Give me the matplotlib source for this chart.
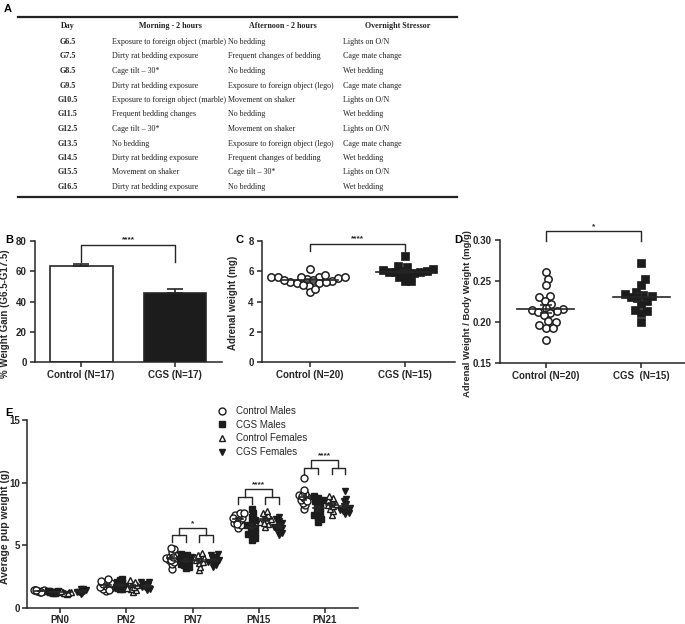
import numpy as np
import matplotlib.pyplot as plt
from matplotlib.lines import Line2D

plt.rcParams['font.family'] = ['Liberation Sans', 'DejaVu Sans']
plt.rcParams['font.weight'] = 'bold'
plt.rcParams['axes.labelweight'] = 'bold'

# ---- Panel A table ----
tbl_header = ['Day', 'Morning - 2 hours', 'Afternoon - 2 hours', 'Overnight Stressor']
days = ['G6.5', 'G7.5', 'G8.5', 'G9.5', 'G10.5', 'G11.5', 'G12.5', 'G13.5', 'G14.5', 'G15.5', 'G16.5']
morning = ['Exposure to foreign object (marble)', 'Dirty rat bedding exposure', 'Cage tilt \u2013 30*',
           'Dirty rat bedding exposure', 'Exposure to foreign object (marble)', 'Frequent bedding changes',
           'Cage tilt \u2013 30*', 'No bedding', 'Dirty rat bedding exposure', 'Movement on shaker',
           'Dirty rat bedding exposure']
afternoon = ['No bedding', 'Frequent changes of bedding', 'No bedding', 'Exposure to foreign object (lego)',
             'Movement on shaker', 'No bedding', 'Movement on shaker', 'Exposure to foreign object (lego)',
             'Frequent changes of bedding', 'Cage tilt \u2013 30*', 'No bedding']
overnight = ['Lights on O/N', 'Cage mate change', 'Wet bedding', 'Cage mate change', 'Lights on O/N',
             'Wet bedding', 'Lights on O/N', 'Cage mate change', 'Wet bedding', 'Lights on O/N', 'Wet bedding']

# ---- Panel B: % weight gain ----
b_groups = ['Control (N=17)', 'CGS (N=17)']
b_mean = [63.5, 45.5]
b_sem = [1.5, 3.0]

# ---- Panel C: adrenal weight (mg) ----
c_groups = ['Control (N=20)', 'CGS (N=15)']
c_ctrl = [5.65, 5.65, 5.6, 5.5, 5.4, 5.35, 5.3, 5.25, 5.2, 5.05, 4.6, 4.85, 5.1, 6.15,
          5.3, 5.45, 5.55, 5.6, 5.65, 5.75]
c_cgs = [6.35, 7.0, 6.1, 6.0, 5.95, 5.6, 5.35, 5.9, 5.35, 5.95, 6.0, 5.75, 6.15, 6.25, 5.95]

# ---- Panel D: adrenal / body weight ----
d_groups = ['Control (N=20)', 'CGS  (N=15)']
d_ctrl = [0.261, 0.253, 0.245, 0.232, 0.230, 0.226, 0.222, 0.217, 0.216, 0.215, 0.213, 0.212,
          0.211, 0.208, 0.201, 0.200, 0.196, 0.193, 0.193, 0.178]
d_cgs = [0.272, 0.252, 0.245, 0.237, 0.234, 0.233, 0.232, 0.231, 0.229, 0.226, 0.222, 0.215,
         0.214, 0.211, 0.200]

# ---- Panel E: pup weights ----
ages = ['PN0', 'PN2', 'PN7', 'PN15', 'PN21']
ctrl_males = [
    [1.30, 1.35, 1.40, 1.45, 1.38, 1.33, 1.42, 1.36, 1.31, 1.40],
    [1.35, 1.50, 1.60, 1.75, 1.85, 2.00, 2.10, 2.30, 1.65, 1.90, 1.45, 2.15],
    [3.10, 3.50, 3.70, 3.85, 3.95, 4.00, 4.10, 4.25, 4.45, 4.70, 4.80, 3.80, 4.05],
    [6.40, 6.60, 6.80, 6.95, 7.05, 7.15, 7.30, 7.45, 7.55, 7.60, 6.70, 7.20],
    [7.90, 8.20, 8.40, 8.60, 8.75, 8.85, 9.00, 9.10, 9.40, 10.40, 8.50, 8.95]]
cgs_males = [
    [1.20, 1.25, 1.30, 1.35, 1.28, 1.22, 1.32, 1.27, 1.34, 1.24],
    [1.50, 1.60, 1.70, 1.80, 1.90, 2.00, 2.10, 2.25, 1.55, 1.65, 1.75, 2.30],
    [3.20, 3.30, 3.45, 3.60, 3.75, 3.85, 3.95, 4.05, 4.15, 4.25, 4.30, 3.50, 3.90],
    [5.40, 5.60, 5.80, 6.00, 6.20, 6.40, 6.60, 6.80, 7.00, 7.30, 7.60, 7.90, 5.90, 6.50],
    [6.90, 7.10, 7.30, 7.60, 7.80, 8.00, 8.20, 8.40, 8.60, 8.80, 8.90, 7.40, 8.50]]
ctrl_females = [
    [1.15, 1.20, 1.25, 1.30, 1.22, 1.28, 1.35, 1.18],
    [1.30, 1.45, 1.55, 1.70, 1.80, 1.95, 2.10, 2.20, 1.60],
    [3.00, 3.30, 3.60, 3.80, 3.95, 4.10, 4.25, 4.40, 3.70, 4.00],
    [6.50, 6.70, 6.90, 7.00, 7.10, 7.25, 7.40, 7.55, 7.70, 6.80],
    [7.40, 7.70, 7.90, 8.10, 8.30, 8.45, 8.60, 8.75, 8.90, 8.20]]
cgs_females = [
    [1.10, 1.20, 1.30, 1.40, 1.50, 1.55, 1.25, 1.35],
    [1.40, 1.50, 1.65, 1.80, 1.95, 2.05, 2.10, 1.70],
    [3.30, 3.45, 3.60, 3.75, 3.85, 3.95, 4.10, 4.25, 4.30, 3.70],
    [5.80, 6.00, 6.20, 6.40, 6.60, 6.80, 6.95, 7.10, 7.30, 6.50, 6.30],
    [7.50, 7.60, 7.75, 7.90, 8.00, 8.10, 8.30, 8.50, 8.70, 9.30, 7.80]]
e_labels = ['Control Males', 'CGS Males', 'Control Females', 'CGS Females']
# significance brackets (age index, star text, top / sub / drop levels)
e_sig_age = [2, 3, 4]
e_sig_txt = ['*', '****', '****']
e_sig_top = [6.37, 9.53, 11.8]
e_sig_sub = [5.79, 8.87, 11.2]
e_sig_drop = [5.24, 8.26, 10.7]

W, H = 685, 624
INK = '#262626'
fig = plt.figure(figsize=(W / 100, H / 100), dpi=100)


def px_axes(l, t, r, b):
    return fig.add_axes([l / W, 1 - b / H, (r - l) / W, (b - t) / H])


def style(ax):
    for s in ['top', 'right']:
        ax.spines[s].set_visible(False)
    for s in ['left', 'bottom']:
        ax.spines[s].set_linewidth(1.1)
        ax.spines[s].set_color(INK)
    ax.tick_params(width=1.1, length=3.5, labelsize=7, colors=INK, pad=2.5)


def swarm(ax, vals, d, max_px=None):
    # simple beeswarm: x offsets (data units) so markers of diameter d px don't overlap
    vals = np.asarray(vals, dtype=float)
    ypix = ax.transData.transform(np.column_stack([np.zeros(len(vals)), vals]))[:, 1]
    ux = ax.transData.transform([(1, 0)])[0, 0] - ax.transData.transform([(0, 0)])[0, 0]
    placed = []
    offs = np.zeros(len(vals))
    for i in np.argsort(vals):
        y = ypix[i]
        cands = [0.0]
        for xj, yj in placed:
            dy = y - yj
            if abs(dy) < d:
                dx = np.sqrt(d * d - dy * dy)
                cands += [xj + dx, xj - dx]
        cands.sort(key=abs)
        for c in cands:
            if all((c - xj) ** 2 + (y - yj) ** 2 >= d * d - 1e-6 for xj, yj in placed):
                break
        placed.append((c, y))
        offs[i] = c
    # squeeze crowded clusters so they overlap like the original dot plots
    if max_px is not None and np.abs(offs).max() > max_px:
        offs = offs * max_px / np.abs(offs).max()
    return offs / ux


def mean_sem(ax, x, vals, half, cap):
    v = np.asarray(vals)
    m = v.mean()
    s = v.std(ddof=1) / np.sqrt(len(v))
    ax.plot([x - half, x + half], [m, m], color=INK, lw=1.2, zorder=4)
    ax.errorbar([x], [m], yerr=[s], fmt='none', ecolor=INK, elinewidth=1.1,
                capsize=cap, capthick=1.1, zorder=4)


# ---------------- A ----------------
fig.text(4 / W, 1 - 4 / H, 'A', fontsize=8, va='top', ha='left')
for yy in [17, 197]:
    fig.add_artist(Line2D([18 / W, 457 / W], [1 - yy / H, 1 - yy / H], lw=1.6, color='#222'))
col_head_x = [68, 170, 283, 398]
for hx, txt in zip(col_head_x, tbl_header):
    fig.text(hx / W, 1 - 26 / H, txt, fontsize=5.8, ha='center', va='center',
             family='Liberation Serif', weight='bold', color='#222')
for i in range(len(days)):
    yy = 1 - (42 + 14.5 * i) / H
    fig.text(68 / W, yy, days[i], fontsize=5.8, ha='center', va='center',
             family='Liberation Serif', weight='bold', color='#222')
    for cx, col in zip([112, 228, 343], [morning, afternoon, overnight]):
        fig.text(cx / W, yy, col[i], fontsize=5.8, ha='left', va='center',
                 family='Liberation Serif', weight='normal', color='#222')

# ---------------- B ----------------
ax = px_axes(35, 241, 222, 362)
style(ax)
ax.set_xlim(-0.49, 1.5)
ax.set_ylim(0, 80)
ax.bar([0, 1], b_mean, width=0.67, color=['white', '#1c1c1c'], edgecolor=INK, linewidth=1.2, zorder=2)
ax.errorbar([0, 1], b_mean, yerr=[[0, 0], b_sem], fmt='none', ecolor=INK, elinewidth=1.2,
            capsize=6, capthick=1.2, zorder=3)
ax.set_yticks([0, 20, 40, 60, 80])
ax.set_xticks([0, 1])
ax.set_xticklabels(b_groups)
ax.plot([0, 0, 1, 1], [66, 77.5, 77.5, 66], color=INK, lw=1, clip_on=False)
ax.text(0.5, 78.3, '****', ha='center', va='bottom', fontsize=6, color=INK)
ax.set_ylabel('% Weight Gain (G6.5-G17.5)', fontsize=7, color=INK)
ax.yaxis.set_label_coords(-0.134, 0.4)
fig.text(5 / W, 1 - 235 / H, 'B', fontsize=8, va='top')

# ---------------- C ----------------
ax = px_axes(262, 241, 455, 362)
style(ax)
ax.set_xlim(-0.505, 1.53)
ax.set_ylim(0, 8)
ax.set_yticks([0, 2, 4, 6, 8])
ax.set_xticks([0, 1])
ax.set_xticklabels(c_groups)
ax.plot(0 + swarm(ax, c_ctrl, 6.6), c_ctrl, 'o', ms=5.3, mfc='white', mec='#1c1c1c', mew=1.1,
        ls='none', zorder=3)
ax.plot(1 + swarm(ax, c_cgs, 6.6), c_cgs, 's', ms=5.3, mfc='#1c1c1c', mec='#1c1c1c', mew=0.5,
        ls='none', zorder=3)
mean_sem(ax, 0, c_ctrl, 0.3, 4)
mean_sem(ax, 1, c_cgs, 0.3, 4)
ax.plot([0, 0, 1, 1], [7.35, 7.8, 7.8, 7.35], color=INK, lw=1, clip_on=False)
ax.text(0.5, 7.9, '****', ha='center', va='bottom', fontsize=6, color=INK)
ax.set_ylabel('Adrenal weight (mg)', fontsize=7, color=INK)
ax.yaxis.set_label_coords(-0.124, 0.49)
fig.text(236 / W, 1 - 235 / H, 'C', fontsize=8, va='top')

# ---------------- D ----------------
ax = px_axes(500, 240, 685, 363)
style(ax)
ax.set_xlim(-0.48, 1.46)
ax.set_ylim(0.15, 0.30)
ax.set_yticks([0.15, 0.20, 0.25, 0.30])
ax.set_yticklabels(['0.15', '0.20', '0.25', '0.30'])
ax.set_xticks([0, 1])
ax.set_xticklabels(d_groups)
ax.plot(0 + swarm(ax, d_ctrl, 6.8), d_ctrl, 'o', ms=5.3, mfc='white', mec='#1c1c1c', mew=1.1,
        ls='none', zorder=3)
ax.plot(1 + swarm(ax, d_cgs, 6.8), d_cgs, 's', ms=5.3, mfc='#1c1c1c', mec='#1c1c1c', mew=0.5,
        ls='none', zorder=3)
mean_sem(ax, 0, d_ctrl, 0.3, 4)
mean_sem(ax, 1, d_cgs, 0.3, 4)
ax.plot([0, 0, 1, 1], [0.299, 0.311, 0.311, 0.299], color=INK, lw=1, clip_on=False)
ax.text(0.5, 0.3115, '*', ha='center', va='bottom', fontsize=6, color=INK)
ax.set_ylabel('Adrenal Weight / Body Weight (mg/g)', fontsize=6.8, color=INK)
ax.yaxis.set_label_coords(-0.15, 0.40)
fig.text(454 / W, 1 - 235 / H, 'D', fontsize=8, va='top')

# ---------------- E ----------------
ax = px_axes(27, 420, 358, 608)
style(ax)
ax.tick_params(pad=1.5)
ax.set_xlim(-0.5, 4.5)
ax.set_ylim(0, 15)
ax.set_yticks([0, 5, 10, 15])
ax.set_xticks(range(len(ages)))
ax.set_xticklabels(ages)
offsets = [-0.31, -0.1, 0.1, 0.31]
series = [ctrl_males, cgs_males, ctrl_females, cgs_females]
mk = ['o', 's', '^', 'v']
filled = [False, True, False, True]
handles = []
for k in range(4):
    for g in range(len(ages)):
        vals = series[k][g]
        xs = g + offsets[k] + swarm(ax, vals, 4.0, max_px=5.5)
        h, = ax.plot(xs, vals, mk[k], ms=5, mfc='#1c1c1c' if filled[k] else 'white',
                     mec='#1c1c1c', mew=1.0, ls='none', zorder=3)
        mean_sem(ax, g + offsets[k], vals, 0.08, 2.5)
    handles.append(h)
for a, txt, top, sub, drop in zip(e_sig_age, e_sig_txt, e_sig_top, e_sig_sub, e_sig_drop):
    x1, x2, x3, x4 = [a + o for o in offsets]
    ax.plot([x1, x1, x2, x2], [drop, sub, sub, drop], color=INK, lw=1)
    ax.plot([x3, x3, x4, x4], [drop, sub, sub, drop], color=INK, lw=1)
    m1, m2 = (x1 + x2) / 2, (x3 + x4) / 2
    ax.plot([m1, m1, m2, m2], [sub, top, top, sub], color=INK, lw=1)
    ax.text((m1 + m2) / 2, top + 0.05, txt, ha='center', va='bottom', fontsize=6, color=INK)
ax.legend(handles, e_labels, loc='upper left', bbox_to_anchor=(217 / W, 1 - 406 / H),
          bbox_transform=fig.transFigure, frameon=False,
          prop={'weight': 'normal', 'size': 7}, handlelength=1.0, handletextpad=0.95,
          labelspacing=0.38, borderpad=0, borderaxespad=0, labelcolor=INK)
ax.set_ylabel('Average pup weight (g)', fontsize=7.5, color=INK)
ax.yaxis.set_label_coords(-0.05, 0.43)
fig.text(5 / W, 1 - 408 / H, 'E', fontsize=8, va='top')

fig.savefig('out.png', dpi=100)
